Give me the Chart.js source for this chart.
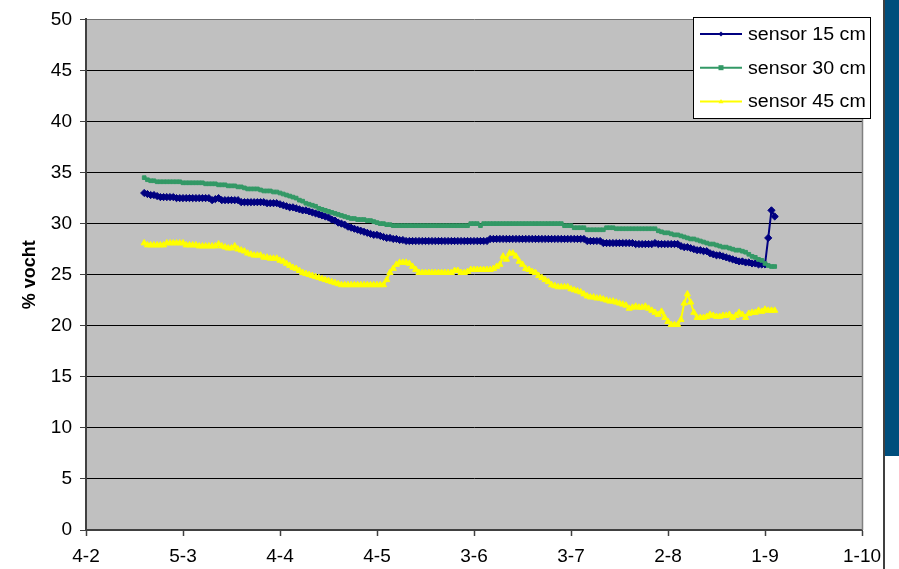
<!DOCTYPE html>
<html>
<head>
<meta charset="utf-8">
<script src="https://cdn.jsdelivr.net/npm/chart.js@4/dist/chart.umd.min.js"></script>
<style>
  html, body { margin: 0; padding: 0; background: #fff; }
  #wrap { position: relative; width: 899px; height: 569px; overflow: hidden; }
  #c { position: absolute; left: 0; top: 0; }
  .rule { position: absolute; left: 883px; top: 0; width: 2px; height: 569px; background: #404040; }
  .band { position: absolute; left: 885px; top: 0; width: 14px; height: 456px; background: #004E7C; }
</style>
</head>
<body>
<div id="wrap">
  <canvas id="c" width="899" height="569"></canvas>
  <div class="rule"></div>
  <div class="band"></div>
</div>
<script>
// Axis labels along the date axis, one every 30 days starting at 4-2
const tickLabels = ['4-2', '5-3', '4-4', '4-5', '3-6', '3-7', '2-8', '1-9', '1-10'];
const tickStep = 30;
// Daily readings start this many days after 4-2
const firstDay = 18;

const seriesNames = ['sensor 15 cm', 'sensor 30 cm', 'sensor 45 cm'];

// % soil moisture per day
const sensor15 = [
  33.0,32.9,32.8,32.8,32.7,32.6,32.6,32.6,32.6,32.6,
  32.5,32.5,32.5,32.5,32.5,32.5,32.5,32.5,32.5,32.5,
  32.5,32.3,32.4,32.5,32.3,32.3,32.3,32.3,32.3,32.3,
  32.1,32.1,32.1,32.1,32.1,32.1,32.1,32.1,32.0,32.0,
  32.0,32.0,31.9,31.8,31.7,31.6,31.6,31.5,31.4,31.3,
  31.3,31.2,31.1,31.0,30.9,30.8,30.7,30.6,30.4,30.3,
  30.1,30.0,29.9,29.7,29.6,29.5,29.4,29.3,29.2,29.1,
  29.0,28.9,28.9,28.8,28.7,28.6,28.6,28.5,28.5,28.4,
  28.4,28.3,28.3,28.3,28.3,28.3,28.3,28.3,28.3,28.3,
  28.3,28.3,28.3,28.3,28.3,28.3,28.3,28.3,28.3,28.3,
  28.3,28.3,28.3,28.3,28.3,28.3,28.3,28.5,28.5,28.5,
  28.5,28.5,28.5,28.5,28.5,28.5,28.5,28.5,28.5,28.5,
  28.5,28.5,28.5,28.5,28.5,28.5,28.5,28.5,28.5,28.5,
  28.5,28.5,28.5,28.5,28.5,28.5,28.5,28.3,28.3,28.3,
  28.3,28.3,28.1,28.1,28.1,28.1,28.1,28.1,28.1,28.1,
  28.1,28.1,28.0,28.0,28.0,28.0,28.0,28.0,28.1,28.0,
  28.0,28.0,28.0,28.0,28.0,28.0,27.8,27.7,27.7,27.6,
  27.5,27.4,27.4,27.3,27.3,27.1,27.0,26.9,26.9,26.8,
  26.7,26.6,26.5,26.4,26.3,26.3,26.2,26.2,26.1,26.1,
  26.0,26.0,26.0,28.6,31.3,30.7
];

const sensor30 = [
  34.5,34.3,34.2,34.2,34.1,34.1,34.1,34.1,34.1,34.1,
  34.1,34.1,34.0,34.0,34.0,34.0,34.0,34.0,34.0,33.9,
  33.9,33.9,33.9,33.8,33.8,33.8,33.7,33.7,33.7,33.6,
  33.6,33.5,33.4,33.4,33.4,33.4,33.3,33.2,33.2,33.2,
  33.1,33.1,33.0,32.9,32.8,32.7,32.6,32.5,32.3,32.2,
  32.0,31.9,31.8,31.7,31.5,31.4,31.3,31.2,31.1,31.0,
  30.9,30.8,30.7,30.6,30.5,30.5,30.4,30.4,30.4,30.3,
  30.3,30.2,30.1,30.0,30.0,29.9,29.9,29.8,29.8,29.8,
  29.8,29.8,29.8,29.8,29.8,29.8,29.8,29.8,29.8,29.8,
  29.8,29.8,29.8,29.8,29.8,29.8,29.8,29.8,29.8,29.8,
  29.8,30.0,30.0,30.0,29.8,30.0,30.0,30.0,30.0,30.0,
  30.0,30.0,30.0,30.0,30.0,30.0,30.0,30.0,30.0,30.0,
  30.0,30.0,30.0,30.0,30.0,30.0,30.0,30.0,30.0,30.0,
  29.8,29.8,29.8,29.6,29.6,29.6,29.6,29.4,29.4,29.4,
  29.4,29.4,29.4,29.6,29.6,29.6,29.5,29.5,29.5,29.5,
  29.5,29.5,29.5,29.5,29.5,29.5,29.5,29.5,29.5,29.3,
  29.2,29.1,29.1,29.0,28.9,28.9,28.8,28.7,28.6,28.5,
  28.5,28.4,28.3,28.2,28.1,28.0,28.0,27.9,27.8,27.7,
  27.7,27.6,27.5,27.4,27.4,27.3,27.2,27.0,26.8,26.7,
  26.5,26.4,26.1,25.9,25.8,25.8
];

const sensor45 = [
  28.1,27.9,27.9,27.9,27.9,27.9,27.9,28.1,28.1,28.1,
  28.1,28.1,28.1,27.9,27.9,27.9,27.9,27.8,27.8,27.8,
  27.8,27.8,27.8,28.0,27.8,27.7,27.6,27.6,27.8,27.5,
  27.4,27.3,27.1,27.0,26.9,26.9,26.9,26.7,26.7,26.6,
  26.6,26.6,26.4,26.3,26.1,25.9,25.7,25.6,25.4,25.2,
  25.1,25.0,24.9,24.8,24.7,24.6,24.5,24.4,24.3,24.2,
  24.1,24.0,24.0,24.0,24.0,24.0,24.0,24.0,24.0,24.0,
  24.0,24.0,24.0,24.0,24.0,24.5,25.2,25.6,26.0,26.2,
  26.2,26.2,26.1,25.8,25.5,25.2,25.2,25.2,25.2,25.2,
  25.2,25.2,25.2,25.2,25.2,25.2,25.4,25.4,25.2,25.2,
  25.3,25.5,25.5,25.5,25.5,25.5,25.5,25.5,25.6,25.8,
  26.0,26.8,26.5,27.1,27.1,26.8,26.3,26.0,25.6,25.5,
  25.3,25.2,24.9,24.7,24.5,24.3,24.0,23.9,23.8,23.8,
  23.8,23.8,23.6,23.5,23.4,23.3,23.1,22.9,22.8,22.8,
  22.7,22.7,22.6,22.5,22.4,22.4,22.3,22.2,22.1,22.0,
  21.7,21.8,21.9,21.8,21.8,21.9,21.7,21.5,21.3,21.1,
  21.4,20.8,20.4,20.1,20.1,20.1,20.6,22.2,23.1,22.3,
  21.3,20.8,20.8,20.8,20.9,21.1,21.0,20.9,20.9,21.0,
  21.0,21.1,20.8,21.0,21.3,21.1,20.8,21.2,21.3,21.3,
  21.5,21.4,21.6,21.5,21.5,21.5
];

const FONT = '"Liberation Sans", Arial, sans-serif';

function toPoints(values) {
  return values.map((v, i) => ({ x: firstDay + i, y: v }));
}

// Plot background plus the grey frame on the right edge
const plotFrame = {
  id: 'plotFrame',
  beforeDraw(chart) {
    const { ctx, chartArea: a } = chart;
    ctx.save();
    ctx.fillStyle = '#C0C0C0';
    ctx.fillRect(a.left, a.top, a.right - a.left, a.bottom - a.top);
    ctx.restore();
  },
  afterDatasetsDraw(chart) {
    const { ctx, chartArea: a } = chart;
    ctx.save();
    ctx.strokeStyle = '#808080';
    ctx.lineWidth = 1.5;
    ctx.beginPath();
    ctx.moveTo(a.right + 0.5, a.top);
    ctx.lineTo(a.right + 0.5, a.bottom);
    ctx.stroke();
    ctx.restore();
  }
};

function drawMarker(ctx, style, x, y, r) {
  ctx.beginPath();
  if (style === 'rectRot') {
    ctx.moveTo(x, y - r); ctx.lineTo(x + r, y); ctx.lineTo(x, y + r); ctx.lineTo(x - r, y);
  } else if (style === 'triangle') {
    ctx.moveTo(x, y - r); ctx.lineTo(x + r, y + r * 0.7); ctx.lineTo(x - r, y + r * 0.7);
  } else {
    ctx.rect(x - r, y - r, 2 * r, 2 * r);
  }
  ctx.closePath();
  ctx.fill();
}

// Boxed legend sitting in the upper right corner of the plot
const boxLegend = {
  id: 'boxLegend',
  afterDraw(chart) {
    const { ctx } = chart;
    const box = { x: 693.5, y: 17.5, w: 177, h: 101 };
    ctx.save();
    ctx.fillStyle = '#FFFFFF';
    ctx.fillRect(box.x, box.y, box.w, box.h);
    ctx.strokeStyle = '#000000';
    ctx.lineWidth = 1;
    ctx.strokeRect(box.x, box.y, box.w, box.h);
    chart.data.datasets.forEach((ds, i) => {
      const y = 34 + i * 33.7;
      ctx.strokeStyle = ds.borderColor;
      ctx.lineWidth = 2;
      ctx.beginPath();
      ctx.moveTo(700, y);
      ctx.lineTo(742, y);
      ctx.stroke();
      ctx.fillStyle = ds.borderColor;
      drawMarker(ctx, ds.pointStyle, 721, y, 2.5);
      ctx.save();
      ctx.translate(748, y + 1);
      ctx.scale(1.09, 1);
      ctx.fillStyle = '#000000';
      ctx.font = '18px ' + FONT;
      ctx.textBaseline = 'middle';
      ctx.textAlign = 'left';
      ctx.fillText(ds.label, 0, 0);
      ctx.restore();
    });
    ctx.restore();
  }
};

new Chart(document.getElementById('c'), {
  type: 'line',
  data: {
    datasets: [
      {
        label: seriesNames[0],
        data: toPoints(sensor15),
        borderColor: '#000080',
        backgroundColor: '#000080',
        borderWidth: 2,
        pointStyle: 'rectRot',
        pointRadius: 3.6,
        pointBorderWidth: 1,
        order: 3
      },
      {
        label: seriesNames[1],
        data: toPoints(sensor30),
        borderColor: '#339966',
        backgroundColor: '#339966',
        borderWidth: 2,
        pointStyle: 'rect',
        pointRadius: 2.6,
        pointBorderWidth: 1,
        order: 2
      },
      {
        label: seriesNames[2],
        data: toPoints(sensor45),
        borderColor: '#FFFF00',
        backgroundColor: '#FFFF00',
        borderWidth: 2,
        pointStyle: 'triangle',
        pointRadius: 3.6,
        pointBorderWidth: 1,
        order: 1
      }
    ]
  },
  options: {
    responsive: false,
    animation: false,
    devicePixelRatio: 1,
    layout: { padding: { top: 16, right: 37, left: 0, bottom: 0 } },
    plugins: {
      legend: { display: false },
      tooltip: { enabled: false }
    },
    scales: {
      x: {
        type: 'linear',
        min: 0,
        max: (tickLabels.length - 1) * tickStep,
        afterFit(scale) { scale.height = 39; },
        ticks: {
          stepSize: tickStep,
          autoSkip: false,
          maxRotation: 0,
          padding: 9,
          color: '#000000',
          font: { family: FONT, size: 19 },
          callback: (value) => tickLabels[Math.round(value / tickStep)]
        },
        grid: {
          drawOnChartArea: false,
          drawTicks: true,
          tickLength: 6,
          tickColor: '#404040',
          tickWidth: 1.5
        },
        border: { display: true, color: '#404040', width: 2 }
      },
      y: {
        min: 0,
        max: 50,
        afterFit(scale) { scale.width = 86; },
        ticks: {
          stepSize: 5,
          padding: 8,
          color: '#000000',
          font: { family: FONT, size: 19 }
        },
        grid: {
          color: (ctx) => (ctx.tick && ctx.tick.value === 50 ? '#707070' : '#000000'),
          lineWidth: 1,
          drawTicks: true,
          tickLength: 6,
          tickColor: '#404040'
        },
        border: { display: true, color: '#404040', width: 2 },
        title: {
          display: true,
          text: '% vocht',
          color: '#000000',
          font: { family: FONT, size: 18, weight: 'bold' },
          padding: { top: 19, bottom: 0 }
        }
      }
    }
  },
  plugins: [plotFrame, boxLegend]
});
</script>
</body>
</html>
